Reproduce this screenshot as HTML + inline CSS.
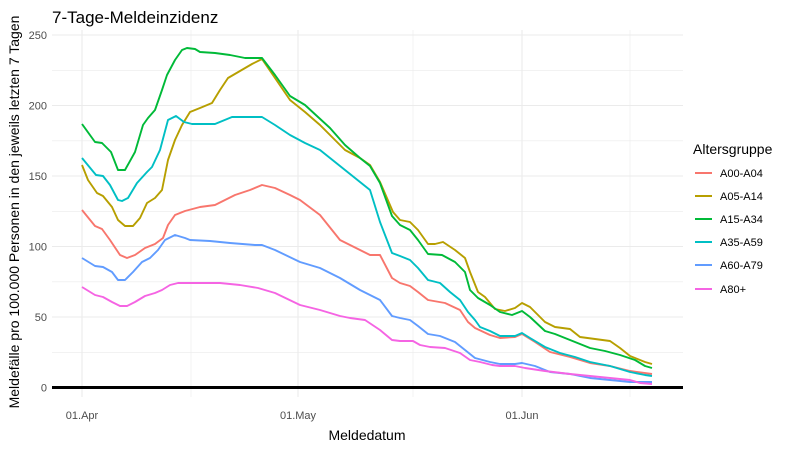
<!DOCTYPE html>
<html><head><meta charset="utf-8"><style>body{margin:0;background:#fff}svg{font-family:"Liberation Sans",sans-serif}</style></head><body>
<svg width="800" height="450" viewBox="0 0 800 450">
<rect width="800" height="450" fill="#fff"/>
<g stroke="#ebebeb" stroke-width="0.6">
<line x1="52" x2="683" y1="352.3" y2="352.3"/><line x1="52" x2="683" y1="281.8" y2="281.8"/><line x1="52" x2="683" y1="211.3" y2="211.3"/><line x1="52" x2="683" y1="140.8" y2="140.8"/><line x1="52" x2="683" y1="70.3" y2="70.3"/>
<line x1="191" x2="191" y1="30" y2="397"/><line x1="413" x2="413" y1="30" y2="397"/><line x1="630" x2="630" y1="30" y2="397"/>
</g>
<g stroke="#ebebeb" stroke-width="1.1">
<line x1="52" x2="683" y1="387.5" y2="387.5"/><line x1="52" x2="683" y1="317" y2="317"/><line x1="52" x2="683" y1="246.5" y2="246.5"/><line x1="52" x2="683" y1="176" y2="176"/><line x1="52" x2="683" y1="105.5" y2="105.5"/><line x1="52" x2="683" y1="35" y2="35"/>
<line x1="82" x2="82" y1="30" y2="397"/><line x1="298" x2="298" y1="30" y2="397"/><line x1="522" x2="522" y1="30" y2="397"/>
</g>
<line x1="52" x2="683" y1="387.5" y2="387.5" stroke="#000" stroke-width="3"/>
<g fill="none" stroke-width="1.9" stroke-linejoin="round">
<polyline stroke="#F8766D" points="82,210 95,226 102,229 110,240 120,255 127,258 135,255 145,248 155,244 163,238 168,225 175,215 185,211 200,207 215,205 235,195 250,190 262,185 275,188 290,195 300,200 320,215 340,240 360,250 370,255 380,255 392,278 400,283 410,286 418,292 428,300 445,303 460,310 468,322 475,328 490,335 500,338 515,337 522,334 535,342 550,352 570,357 590,363 610,366 630,371 652,374"/>
<polyline stroke="#B79F00" points="82,165 88,180 97,193 103,196 112,207 118,220 125,226 133,226 140,218 147,203 155,198 162,190 168,160 175,140 182,125 190,112 200,108 212,103 220,90 228,78 240,71 252,64 262,59 275,78 290,100 305,112 320,125 335,140 345,150 360,158 370,165 380,182 393,212 400,220 410,222 418,230 428,244 435,244 443,242 455,250 465,258 470,272 478,292 485,297 495,309 505,311 515,308 522,303 530,307 545,322 555,327 570,329 580,337 595,339 610,341 620,348 630,356 645,362 652,364"/>
<polyline stroke="#00BA38" points="82,124 95,142 102,143 111,152 118,170 125,170 135,152 143,125 148,118 155,110 162,90 167,75 175,60 182,50 187,48 195,49 200,52 215,53 230,55 245,58 262,58 275,75 290,96 305,105 318,117 330,128 345,145 360,158 370,166 380,183 392,216 400,225 410,230 418,240 428,254 442,255 455,262 465,272 470,290 478,298 490,305 500,312 512,315 522,311 530,317 545,331 555,334 570,340 590,348 605,351 620,355 635,360 645,366 652,368"/>
<polyline stroke="#00BFC4" points="82,158 96,175 103,176 110,185 118,200 122,201 128,198 137,183 147,172 152,167 160,150 168,120 176,116 184,122 192,124 215,124 232,117 262,117 275,125 290,135 305,143 320,150 335,162 345,170 360,182 370,190 380,222 392,253 400,256 410,260 418,268 428,280 440,283 450,292 460,300 468,312 475,320 480,327 490,331 500,336 515,336 522,333 530,338 545,347 560,353 575,357 590,362 610,366 630,372 645,375 652,376"/>
<polyline stroke="#619CFF" points="82,258 95,266 103,267 112,272 118,280 125,280 133,272 142,262 150,258 158,250 165,240 175,235 185,238 190,240 210,241 230,243 255,245 262,245 275,250 300,262 320,268 340,278 360,290 370,295 380,300 392,316 400,318 410,320 418,326 428,334 440,336 455,342 465,350 475,358 490,362 500,364 515,364 522,363 535,366 550,372 570,374 590,378 610,380 630,382 652,382"/>
<polyline stroke="#F564E3" points="82,287 95,295 103,297 112,302 120,306 127,306 135,302 145,296 155,293 162,290 170,285 178,283 210,283 220,283 240,285 258,288 275,293 300,305 320,310 340,316 350,318 365,320 380,330 392,340 400,341 413,341 420,345 430,347 445,348 460,353 470,360 480,362 492,365 500,366 515,366 525,368 545,371 570,374 590,376 610,378 630,380 640,383 652,384"/>
</g>
<g font-size="11" fill="#4d4d4d" text-anchor="end">
<text x="47" y="391.5">0</text><text x="47" y="321">50</text><text x="47" y="250.5">100</text><text x="47" y="180">150</text><text x="47" y="109.5">200</text><text x="47" y="39">250</text>
</g>
<g font-size="11" fill="#4d4d4d" text-anchor="middle">
<text x="82" y="419">01.Apr</text><text x="298" y="419">01.May</text><text x="522" y="419">01.Jun</text>
</g>
<text x="367" y="440" font-size="14" text-anchor="middle" fill="#000">Meldedatum</text>
<text transform="translate(19,212) rotate(-90)" font-size="14" text-anchor="middle" fill="#000">Meldefälle pro 100.000 Personen in den jeweils letzten 7 Tagen</text>
<text x="52" y="23" font-size="17" fill="#000">7-Tage-Meldeinzidenz</text>
<text x="693" y="154" font-size="14" fill="#000">Altersgruppe</text>
<g stroke-width="2">
<line x1="695" x2="712" y1="173" y2="173" stroke="#F8766D"/><line x1="695" x2="712" y1="196" y2="196" stroke="#B79F00"/><line x1="695" x2="712" y1="219" y2="219" stroke="#00BA38"/><line x1="695" x2="712" y1="242" y2="242" stroke="#00BFC4"/><line x1="695" x2="712" y1="265" y2="265" stroke="#619CFF"/><line x1="695" x2="712" y1="289" y2="289" stroke="#F564E3"/>
</g>
<g font-size="11" fill="#000">
<text x="720" y="177">A00-A04</text><text x="720" y="200">A05-A14</text><text x="720" y="223">A15-A34</text><text x="720" y="246">A35-A59</text><text x="720" y="269">A60-A79</text><text x="720" y="293">A80+</text>
</g>
</svg>
</body></html>
